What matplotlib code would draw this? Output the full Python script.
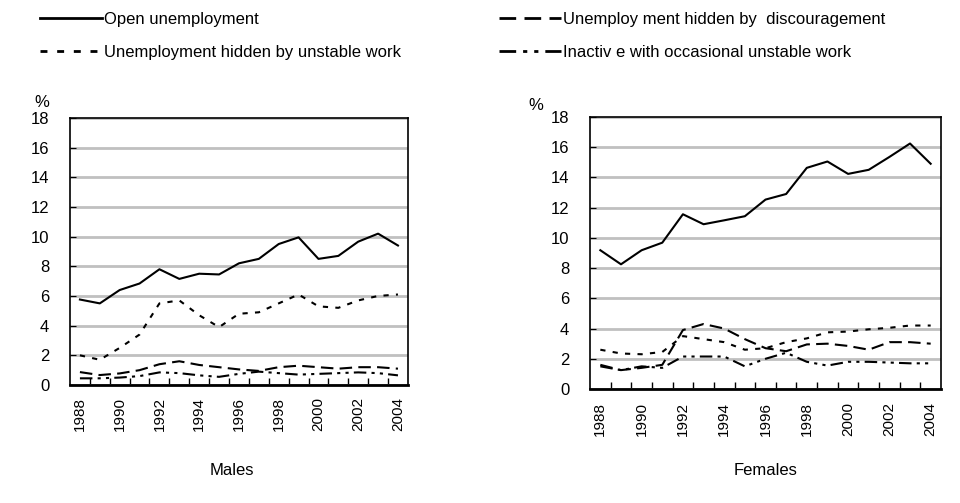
import numpy as np
import matplotlib
matplotlib.use("Agg")
import matplotlib.pyplot as plt
from matplotlib.ticker import FixedLocator

plt.rcParams['font.family'] = ['Liberation Sans', 'DejaVu Sans']

# data
years = list(range(1988, 2005))

males_open = [5.76, 5.5, 6.4, 6.84, 7.8, 7.15, 7.5, 7.45, 8.2, 8.5, 9.5, 9.95, 8.5, 8.7, 9.66, 10.2, 9.4]
males_unstable = [2.0, 1.7, 2.5, 3.4, 5.5, 5.7, 4.7, 3.9, 4.8, 4.9, 5.5, 6.1, 5.3, 5.2, 5.7, 6.0, 6.1]
males_discour = [0.87, 0.67, 0.78, 1.0, 1.4, 1.6, 1.35, 1.2, 1.05, 0.95, 1.2, 1.3, 1.2, 1.1, 1.2, 1.2, 1.1]
males_inactive = [0.45, 0.45, 0.5, 0.6, 0.85, 0.8, 0.65, 0.55, 0.75, 0.9, 0.8, 0.7, 0.75, 0.8, 0.85, 0.8, 0.65]

females_open = [9.18, 8.25, 9.18, 9.68, 11.56, 10.9, 11.16, 11.43, 12.53, 12.9, 14.63, 15.05, 14.23, 14.5, 15.35, 16.24, 14.9]
females_unstable = [2.6, 2.35, 2.3, 2.45, 3.5, 3.3, 3.1, 2.6, 2.7, 3.1, 3.35, 3.75, 3.8, 3.95, 4.05, 4.2, 4.2]
females_discour = [1.6, 1.25, 1.4, 1.6, 3.9, 4.3, 4.0, 3.3, 2.7, 2.5, 2.95, 3.0, 2.85, 2.6, 3.1, 3.1, 3.0]
females_inactive = [1.5, 1.25, 1.5, 1.4, 2.15, 2.15, 2.15, 1.5, 2.0, 2.4, 1.8, 1.55, 1.8, 1.8, 1.75, 1.7, 1.7]

labels = ['Open unemployment',
          'Unemployment hidden by unstable work',
          'Unemploy ment hidden by  discouragement',
          'Inactiv e with occasional unstable work']

styles = [dict(linestyle='-'),
          dict(linestyle=(0, (2.5, 3.5))),
          dict(linestyle=(0, (6, 3))),
          dict(linestyle=(0, (6, 2.5, 1.5, 2.5, 1.5, 2.5)))]


###############################################################################
#                               one panel                                     #
###############################################################################
def draw_panel(ax, series):
    x = np.arange(len(years))
    handles = []
    for vals, lab, st in zip(series, labels, styles):
        h, = ax.plot(x, vals, color='black', lw=1.5, label=lab, zorder=3, **st)
        handles.append(h)

    ax.set_xlim(-0.5, len(years) - 0.5)
    ax.set_ylim(0, 18)
    ax.set_yticks(range(0, 19, 2))
    ax.yaxis.grid(True, color='#c0c0c0', lw=2)
    ax.set_axisbelow(True)
    ax.tick_params(axis='y', direction='in', length=4, pad=15, labelsize=12)

    # labels at every second year, ticks between categories
    ax.set_xticks(x[::2])
    ax.set_xticklabels([str(y) for y in years[::2]], rotation=90, fontsize=11)
    ax.xaxis.set_minor_locator(FixedLocator(np.arange(0.5, len(years) - 1, 1.0)))
    ax.tick_params(axis='x', which='major', length=0, pad=9)
    ax.tick_params(axis='x', which='minor', direction='in', length=5, width=1)

    for s in ax.spines.values():
        s.set_linewidth(1.2)
    ax.spines['bottom'].set_linewidth(2)
    return handles


fig = plt.figure(figsize=(9.6, 5.03), dpi=100)
ax1 = fig.add_axes([0.0729, 0.2346, 0.352, 0.531])
ax2 = fig.add_axes([0.6146, 0.2266, 0.3656, 0.541])

h = draw_panel(ax1, [males_open, males_unstable, males_discour, males_inactive])
draw_panel(ax2, [females_open, females_unstable, females_discour, females_inactive])

fig.text(0.2417, 0.0656, 'Males', fontsize=12, ha='center', va='center')
fig.text(0.797, 0.0656, 'Females', fontsize=12, ha='center', va='center')
fig.text(0.044, 0.797, '%', fontsize=12, ha='center', va='center')
fig.text(0.558, 0.791, '%', fontsize=12, ha='center', va='center')

leg_kw = dict(frameon=False, fontsize=12, handlelength=3.7, handletextpad=0.1,
              labelspacing=1.05, borderpad=0, borderaxespad=0, loc='upper left')
l1 = fig.legend(h[:2], labels[:2], bbox_to_anchor=(0.042, 0.976), **leg_kw)
l2 = fig.legend(h[2:], labels[2:], bbox_to_anchor=(0.52, 0.976), **leg_kw)
for lg in (l1, l2):
    for ln in lg.get_lines():
        ln.set_linewidth(2)

fig.savefig('out.png', dpi=100)
